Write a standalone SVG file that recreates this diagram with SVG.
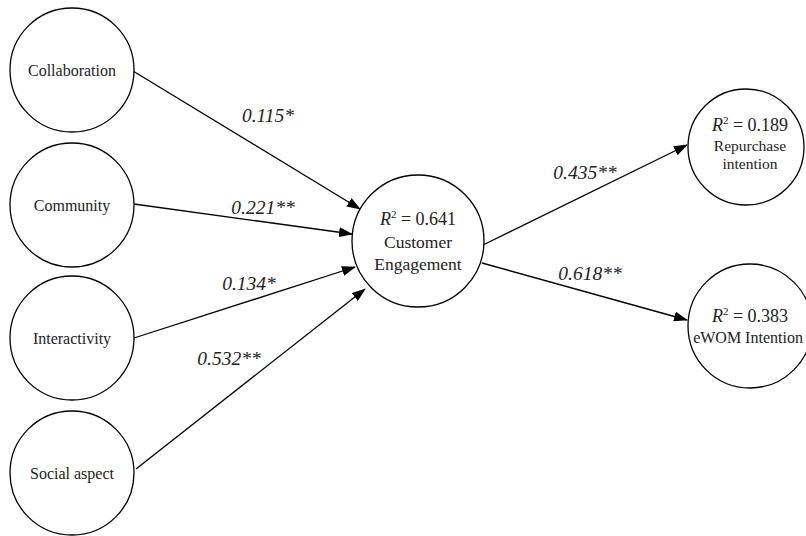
<svg xmlns="http://www.w3.org/2000/svg" width="806" height="536" viewBox="0 0 806 536">
<defs>
<marker id="ah" markerWidth="14" markerHeight="10" refX="13" refY="5" orient="auto" markerUnits="userSpaceOnUse">
<path d="M0,0 L14,5 L0,10 Z" fill="#000"/>
</marker>
<style>
.n{fill:#fff;stroke:#000;stroke-width:1.3}
.t{fill:#222;text-anchor:middle}
.l{font-style:italic;font-size:19.5px;fill:#222;text-anchor:middle}
.c{stroke:#000;stroke-width:1.3;fill:none;marker-end:url(#ah)}
</style>
</defs>
<rect width="806" height="536" fill="#fff"/>
<g id="connectors">
<line class="c" x1="133" y1="71" x2="360" y2="209"/>
<line class="c" x1="134" y1="204" x2="352" y2="234"/>
<line class="c" x1="134" y1="338" x2="355" y2="267"/>
<line class="c" x1="136" y1="469" x2="365" y2="289"/>
<line class="c" x1="483" y1="245" x2="687" y2="145"/>
<line class="c" x1="482" y1="263" x2="687" y2="320"/>
</g>
<g id="labels">
<text class="l" font-family="Liberation Serif, serif" x="268" y="122">0.115*</text>
<text class="l" font-family="Liberation Serif, serif" x="263" y="214">0.221**</text>
<text class="l" font-family="Liberation Serif, serif" x="249" y="290">0.134*</text>
<text class="l" font-family="Liberation Serif, serif" x="229" y="365">0.532**</text>
<text class="l" font-family="Liberation Serif, serif" x="585" y="179">0.435**</text>
<text class="l" font-family="Liberation Serif, serif" x="590" y="280">0.618**</text>
</g>
<g id="collaboration">
<circle class="n" cx="72" cy="70" r="62"/>
<text class="t" font-family="Liberation Serif, serif" x="72" y="76" font-size="16">Collaboration</text>
</g>
<g id="community">
<circle class="n" cx="72" cy="205" r="62"/>
<text class="t" font-family="Liberation Serif, serif" x="72" y="211" font-size="16">Community</text>
</g>
<g id="interactivity">
<circle class="n" cx="72" cy="338" r="62"/>
<text class="t" font-family="Liberation Serif, serif" x="72" y="344" font-size="16">Interactivity</text>
</g>
<g id="social-aspect">
<circle class="n" cx="72" cy="473" r="62"/>
<text class="t" font-family="Liberation Serif, serif" x="72" y="479" font-size="16">Social aspect</text>
</g>
<g id="customer-engagement">
<circle class="n" cx="418" cy="241" r="66"/>
<text class="t" font-family="Liberation Serif, serif" x="418" y="225" font-size="18"><tspan font-style="italic">R</tspan><tspan font-size="11" dy="-7">2</tspan><tspan dy="7"> = 0.641</tspan></text>
<text class="t" font-family="Liberation Serif, serif" x="418" y="248" font-size="17.5">Customer</text>
<text class="t" font-family="Liberation Serif, serif" x="418" y="270" font-size="17.5">Engagement</text>
</g>
<g id="repurchase-intention">
<circle class="n" cx="746" cy="147" r="58"/>
<text class="t" font-family="Liberation Serif, serif" x="750" y="131" font-size="18"><tspan font-style="italic">R</tspan><tspan font-size="11" dy="-7">2</tspan><tspan dy="7"> = 0.189</tspan></text>
<text class="t" font-family="Liberation Serif, serif" x="750" y="151" font-size="15.5">Repurchase</text>
<text class="t" font-family="Liberation Serif, serif" x="750" y="169" font-size="15.5">intention</text>
</g>
<g id="ewom-intention">
<circle class="n" cx="750" cy="326" r="62"/>
<text class="t" font-family="Liberation Serif, serif" x="750" y="322" font-size="18"><tspan font-style="italic">R</tspan><tspan font-size="11" dy="-7">2</tspan><tspan dy="7"> = 0.383</tspan></text>
<text class="t" font-family="Liberation Serif, serif" x="748" y="343" font-size="16">eWOM Intention</text>
</g>
</svg>
